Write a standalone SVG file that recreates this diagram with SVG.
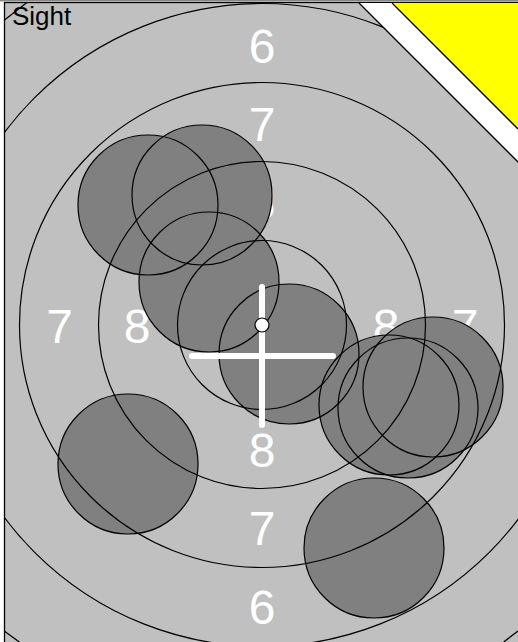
<svg xmlns="http://www.w3.org/2000/svg" width="518" height="642" viewBox="0 0 518 642">
<style>
.ring{fill:none;stroke:#000;stroke-width:1.2}
.shot{fill:#808080}
.shotline{fill:none;stroke:#000;stroke-width:1.2}
.num{font-family:"Liberation Sans",Arial,sans-serif;font-size:48px;fill:#fff;text-anchor:middle}
.edge{stroke:#000;stroke-width:1.3;fill:none}
.cross{stroke:#fff;stroke-width:6;stroke-linecap:round}
</style>
<defs>
<clipPath id="card">
<polygon points="4.5,19.9 26.9,2.5 359,2.5 520,163.5 520,629 503.7,644 20,644 4.5,631.2"/>
</clipPath>
<circle id="sh" r="70"/>
</defs>
<rect x="0" y="0" width="518" height="642" fill="#fff"/>
<g id="card-bg">
<rect x="4.5" y="2.5" width="520" height="650" fill="#c0c0c0" stroke="#000" stroke-width="1.3"/>
<line x1="0" y1="0.8" x2="518" y2="0.8" stroke="#555" stroke-width="1"/>
<polygon points="359,3 392,3 518,129 518,162" fill="#fff"/>
<polygon points="392,3 518,3 518,129" fill="#ffff00"/>
<line class="edge" x1="392" y1="3" x2="518" y2="129"/>
<line class="edge" x1="359" y1="3" x2="518" y2="162"/>
<line class="edge" x1="4.5" y1="19.9" x2="26.9" y2="2.5"/>
<line class="edge" x1="4.5" y1="631.2" x2="19.4" y2="642"/>
<line class="edge" x1="518" y1="631" x2="503.7" y2="642"/>
</g>
<g id="labels">
<text class="num" x="262" y="63">6</text>
<text class="num" x="262" y="141">7</text>
<text class="num" x="262" y="219">8</text>
<text class="num" x="262" y="467">8</text>
<text class="num" x="262" y="545">7</text>
<text class="num" x="262" y="624">6</text>
<text class="num" x="59.5" y="343">7</text>
<text class="num" x="137" y="343">8</text>
<text class="num" x="386" y="343">8</text>
<text class="num" x="465" y="343">7</text>
</g>
<g id="shots">
<use href="#sh" class="shot" x="202" y="195"/>
<use href="#sh" class="shot" x="148" y="205"/>
<use href="#sh" class="shot" x="209" y="282"/>
<use href="#sh" class="shot" x="289" y="354"/>
<use href="#sh" class="shot" x="128" y="464"/>
<use href="#sh" class="shot" x="389" y="405"/>
<use href="#sh" class="shot" x="408" y="408"/>
<use href="#sh" class="shot" x="433" y="387"/>
<use href="#sh" class="shot" x="374" y="548"/>
</g>
<g id="rings" clip-path="url(#card)">
<circle class="ring" cx="262" cy="325" r="84.5"/>
<circle class="ring" cx="262" cy="325" r="163.5"/>
<circle class="ring" cx="262" cy="325" r="242.5"/>
<circle class="ring" cx="262" cy="325" r="321.5"/>
</g>
<g id="shot-outlines">
<use href="#sh" class="shotline" x="202" y="195"/>
<use href="#sh" class="shotline" x="148" y="205"/>
<use href="#sh" class="shotline" x="209" y="282"/>
<use href="#sh" class="shotline" x="289" y="354"/>
<use href="#sh" class="shotline" x="128" y="464"/>
<use href="#sh" class="shotline" x="389" y="405"/>
<use href="#sh" class="shotline" x="408" y="408"/>
<use href="#sh" class="shotline" x="433" y="387"/>
<use href="#sh" class="shotline" x="374" y="548"/>
</g>
<g id="sight">
<line class="cross" x1="262" y1="287" x2="262" y2="425"/>
<line class="cross" x1="192" y1="356" x2="333" y2="356"/>
<circle cx="262" cy="325" r="7" fill="#fff" stroke="#000" stroke-width="1.2"/>
</g>
<text id="title" x="12" y="25" font-family="'Liberation Sans',Arial,sans-serif" font-size="26" fill="#000">Sight</text>
</svg>
